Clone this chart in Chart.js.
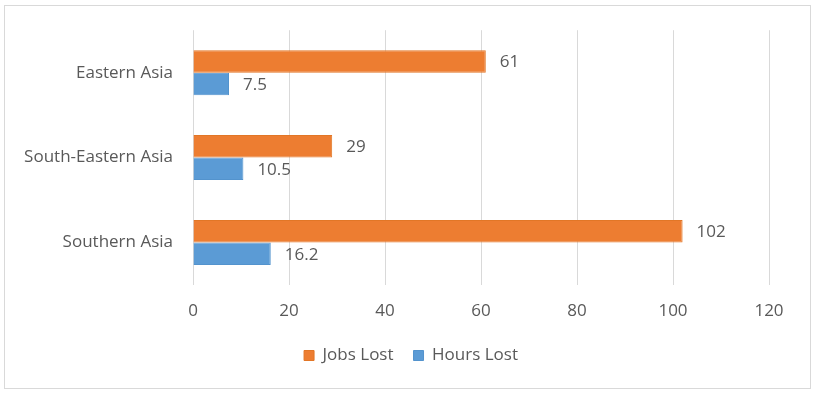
<!DOCTYPE html>
<html>
<head>
<meta charset="utf-8">
<script src="https://cdn.jsdelivr.net/npm/chart.js@4"></script>
<style>
  html, body { margin: 0; padding: 0; background: #fff; }
  #wrap { width: 823px; height: 394px; }
</style>
</head>
<body>
<div id="wrap"><canvas id="chart" width="823" height="394"></canvas></div>
<script>
const regions = ["Eastern Asia", "South-Eastern Asia", "Southern Asia"];
const jobsLost = [61, 29, 102];
const hoursLost = [7.5, 10.5, 16.2];
const xTicks = [0, 20, 40, 60, 80, 100, 120];

const textColor = "#595959";
const fontFamily = "'Open Sans', 'Noto Sans', sans-serif";
const fontSize = 17;

// frame round the whole chart
const framePlugin = {
  id: "frame",
  beforeDraw(chart) {
    const ctx = chart.ctx;
    ctx.save();
    ctx.fillStyle = "#fff";
    ctx.fillRect(0, 0, chart.width, chart.height);
    ctx.strokeStyle = "#d9d9d9";
    ctx.lineWidth = 1;
    ctx.strokeRect(4.5, 5.5, 806, 383);
    ctx.restore();
  }
};

// centre the legend on the whole frame, not on the padded area
const legendShift = {
  id: "legendShift",
  afterLayout(chart) {
    const lg = chart.legend;
    const dx = 411 - (lg.left + lg.right) / 2;
    lg.left += dx;
    lg.right += dx;
  }
};

// value labels at the end of each bar
const valueLabels = {
  id: "valueLabels",
  afterDatasetsDraw(chart) {
    const ctx = chart.ctx;
    ctx.save();
    ctx.font = fontSize + "px " + fontFamily;
    ctx.fillStyle = textColor;
    ctx.textAlign = "left";
    ctx.textBaseline = "middle";
    chart.data.datasets.forEach(function (ds, i) {
      chart.getDatasetMeta(i).data.forEach(function (bar, j) {
        ctx.fillText(String(ds.data[j]), bar.x + 14, bar.y + 1);
      });
    });
    ctx.restore();
  }
};

new Chart(document.getElementById("chart"), {
  type: "bar",
  data: {
    labels: regions,
    datasets: [
      { label: "Jobs Lost", data: jobsLost, backgroundColor: "#ED7D31", borderColor: "#E27626", borderWidth: 1 },
      { label: "Hours Lost", data: hoursLost, backgroundColor: "#5B9BD5", borderColor: "#5393CD", borderWidth: 1 }
    ]
  },
  options: {
    indexAxis: "y",
    responsive: false,
    animation: false,
    devicePixelRatio: 1,
    layout: { padding: { left: 10, right: 54, top: 29, bottom: 20 } },
    datasets: { bar: { categoryPercentage: 0.53, barPercentage: 1.0 } },
    scales: {
      x: {
        min: 0,
        max: 120,
        afterBuildTicks(scale) {
          scale.ticks = xTicks.map(v => ({ value: v }));
        },
        afterFit(scale) { scale.height = 42; },
        grid: { color: "#d9d9d9", drawTicks: false },
        border: { display: false },
        ticks: { color: textColor, padding: 16, font: { family: fontFamily, size: fontSize } }
      },
      y: {
        afterFit(scale) { scale.width = 183; },
        grid: { display: false, drawTicks: false },
        border: { display: false },
        ticks: { color: textColor, padding: 20, font: { family: fontFamily, size: fontSize } }
      }
    },
    plugins: {
      legend: {
        position: "bottom",
        labels: {
          color: textColor,
          boxWidth: 10,
          boxHeight: 10,
          padding: 20,
          font: { family: fontFamily, size: fontSize }
        }
      },
      tooltip: { enabled: false }
    }
  },
  plugins: [framePlugin, legendShift, valueLabels]
});
</script>
</body>
</html>
